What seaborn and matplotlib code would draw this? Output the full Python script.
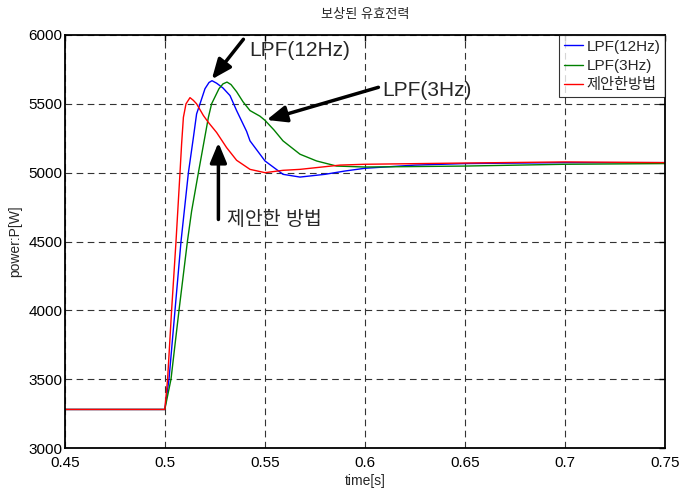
import numpy as np
import pandas as pd
import matplotlib
matplotlib.use("Agg")
import matplotlib.pyplot as plt
import seaborn as sns

# ---- data ----
t_lpf12 = [0.45, 0.4999, 0.502, 0.505, 0.508, 0.5117, 0.5142, 0.5158, 0.5175, 0.520,
           0.522, 0.5235, 0.5258, 0.529, 0.5325, 0.5358, 0.5408, 0.5425, 0.55, 0.559,
           0.5675, 0.58, 0.59, 0.60, 0.625, 0.65, 0.70, 0.75]
p_lpf12 = [3280, 3280, 3500, 4000, 4500, 5000, 5256, 5427, 5500, 5610,
           5655, 5668, 5650, 5615, 5560, 5451, 5300, 5231, 5085, 4988,
           4968, 4988, 5012, 5032, 5055, 5066, 5073, 5073]

t_lpf3 = [0.45, 0.4999, 0.503, 0.507, 0.5112, 0.5133, 0.5167, 0.5217, 0.5233, 0.527,
          0.529, 0.531, 0.533, 0.5358, 0.539, 0.5425, 0.5475, 0.55, 0.5545, 0.559,
          0.5675, 0.5758, 0.5858, 0.60, 0.65, 0.70, 0.75]
p_lpf3 = [3280, 3280, 3500, 4000, 4500, 4720, 5000, 5402, 5500, 5610,
          5645, 5658, 5640, 5588, 5515, 5451, 5410, 5380, 5310, 5231,
          5134, 5085, 5048, 5041, 5048, 5061, 5066]

t_prop = [0.45, 0.4999, 0.5013, 0.5033, 0.5055, 0.5075, 0.5083, 0.5092, 0.5105, 0.5125,
          0.5142, 0.5158, 0.5192, 0.5217, 0.5258, 0.5308, 0.5358, 0.5425, 0.55, 0.559,
          0.5675, 0.5875, 0.60, 0.65, 0.70, 0.75]
p_prop = [3280, 3280, 3500, 4000, 4500, 5000, 5208, 5402, 5500, 5545,
          5525, 5500, 5415, 5365, 5292, 5182, 5090, 5024, 5000, 5017,
          5024, 5055, 5061, 5070, 5078, 5073]

series_names = ["LPF(12Hz)", "LPF(3Hz)", "제안한방법"]
series_colors = ["#0000ff", "#008000", "#ff0000"]

x_ticks = [0.45, 0.5, 0.55, 0.6, 0.65, 0.7, 0.75]
x_tick_labels = ["0.45", "0.5", "0.55", "0.6", "0.65", "0.7", "0.75"]
y_ticks = [3000, 3500, 4000, 4500, 5000, 5500, 6000]

title_text = "보상된 유효전력"
x_label = "time[s]"
y_label = "power:P[W]"

df = pd.concat([
    pd.DataFrame({"time": t_lpf12, "power": p_lpf12, "series": series_names[0]}),
    pd.DataFrame({"time": t_lpf3, "power": p_lpf3, "series": series_names[1]}),
    pd.DataFrame({"time": t_prop, "power": p_prop, "series": series_names[2]}),
], ignore_index=True)

sns.set_style("white")
plt.rcParams["font.family"] = ["Liberation Sans", "Noto Sans CJK KR", "DejaVu Sans"]

fig = plt.figure(figsize=(6.96, 4.93), dpi=100)
ax = fig.add_axes([65/696, 1-448/493, 600/696, 413/493])

sns.lineplot(data=df, x="time", y="power", hue="series", hue_order=series_names,
             palette=series_colors, estimator=None, sort=False, linewidth=1.0, ax=ax)

ax.set_xlim(0.45, 0.75)
ax.set_ylim(3000, 6000)
ax.set_xticks(x_ticks)
ax.set_xticklabels(x_tick_labels)
ax.set_yticks(y_ticks)
ax.grid(True, color="#333333", linestyle=(0, (6, 4)), linewidth=0.8)
ax.tick_params(direction="in", length=4, width=1, labelsize=11, top=True, right=True,
               colors="black")
ax.tick_params(axis="x", pad=6)
ax.tick_params(axis="y", pad=2)
for s in ax.spines.values():
    s.set_color("black")
    s.set_linewidth(1.3)

ax.set_title(title_text, fontsize=9.5, pad=12)
ax.set_xlabel(x_label, fontsize=10, labelpad=3)
ax.set_ylabel(y_label, fontsize=10, labelpad=4)

leg = ax.legend(loc="upper right", borderaxespad=0, fontsize=11, frameon=True,
                fancybox=False, edgecolor="black", handlelength=1.3, handletextpad=0.2,
                labelspacing=0.35, borderpad=0.3)
leg.get_frame().set_linewidth(0.8)

arrow_kw = dict(arrowstyle="-|>,head_length=0.6,head_width=0.25", color="black",
                lw=2.5, shrinkA=0, shrinkB=0, mutation_scale=20)
ax.annotate("", xy=(0.5234, 5678), xytext=(0.5392, 5969), arrowprops=arrow_kw)
ax.text(0.542, 5891, "LPF(12Hz)", fontsize=15, ha="left", va="center")
ax.annotate("", xy=(0.5508, 5383), xytext=(0.6067, 5620), arrowprops=arrow_kw)
ax.text(0.6085, 5600, "LPF(3Hz)", fontsize=15, ha="left", va="center")
ax.annotate("", xy=(0.5267, 5218), xytext=(0.5267, 4660), arrowprops=arrow_kw)
ax.text(0.5312, 4656, "제안한 방법", fontsize=14, ha="left", va="center")

fig.savefig("out.png", dpi=100)
